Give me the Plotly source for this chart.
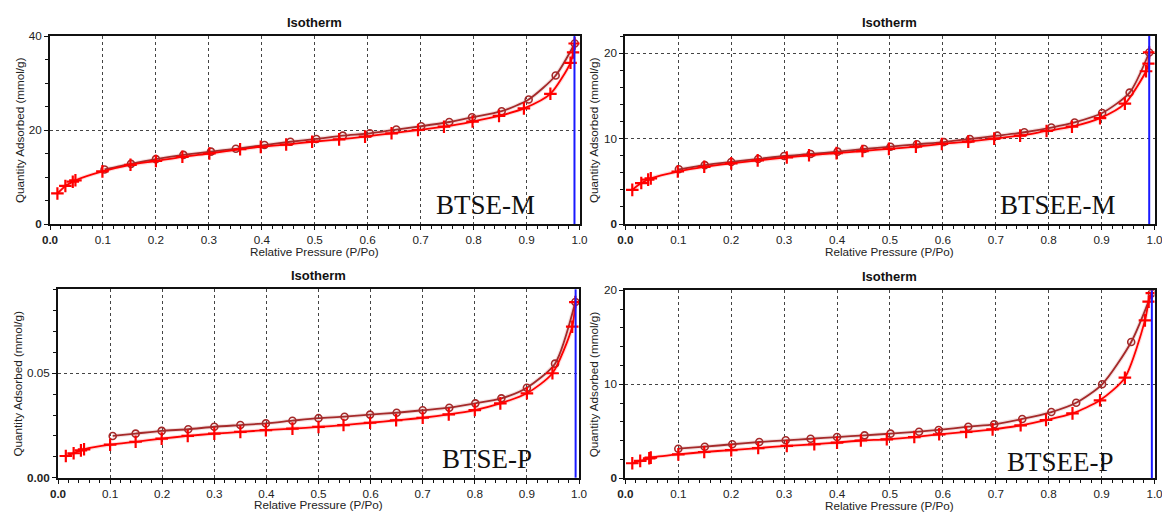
import numpy as np
import plotly.graph_objects as go

# ---------------- data: N2 isotherms (relative pressure, mmol/g) ----------------
samples = ["BTSE-M", "BTSEE-M", "BTSE-P", "BTSEE-P"]

btse_m_ads_x = [0.014, 0.029, 0.043, 0.048, 0.099, 0.152, 0.200, 0.250, 0.301, 0.359, 0.398, 0.446, 0.495,
                0.546, 0.595, 0.645, 0.695, 0.744, 0.798, 0.848, 0.895, 0.945, 0.983, 0.988, 0.991]
btse_m_ads_y = [6.5, 8.1, 9.0, 9.3, 11.2, 12.6, 13.4, 14.3, 15.0, 15.9, 16.4, 16.9, 17.5,
                18.0, 18.6, 19.3, 20.0, 20.7, 21.8, 23.0, 24.6, 27.7, 34.3, 36.5, 38.4]
btse_m_des_x = [0.991, 0.955, 0.904, 0.853, 0.797, 0.754, 0.701, 0.654, 0.604, 0.553, 0.503, 0.454, 0.405,
                0.351, 0.304, 0.252, 0.200, 0.153, 0.103]
btse_m_des_y = [38.4, 31.6, 26.5, 24.0, 22.7, 21.7, 20.8, 20.1, 19.3, 18.8, 18.1, 17.5, 16.8,
                16.0, 15.4, 14.7, 13.8, 12.8, 11.6]

btsee_m_ads_x = [0.013, 0.030, 0.043, 0.048, 0.099, 0.149, 0.200, 0.250, 0.305, 0.347, 0.399, 0.448, 0.498,
                 0.549, 0.598, 0.648, 0.697, 0.746, 0.796, 0.844, 0.897, 0.944, 0.984, 0.989, 0.990]
btsee_m_ads_y = [4.0, 4.8, 5.2, 5.35, 6.15, 6.7, 7.1, 7.45, 7.8, 8.05, 8.3, 8.55, 8.8,
                 9.06, 9.38, 9.65, 10.0, 10.35, 10.9, 11.4, 12.4, 14.1, 17.9, 18.8, 20.1]
btsee_m_des_x = [0.990, 0.953, 0.901, 0.849, 0.805, 0.754, 0.703, 0.651, 0.602, 0.551, 0.501, 0.451, 0.401,
                 0.350, 0.300, 0.251, 0.200, 0.150, 0.101]
btsee_m_des_y = [20.1, 15.4, 13.0, 11.9, 11.3, 10.75, 10.35, 9.96, 9.6, 9.34, 9.06, 8.79, 8.48,
                 8.2, 7.97, 7.62, 7.27, 6.9, 6.41]

btse_p_ads_x = [0.015, 0.030, 0.044, 0.050, 0.100, 0.149, 0.199, 0.249, 0.300, 0.350, 0.399, 0.450, 0.500,
                0.548, 0.599, 0.649, 0.700, 0.750, 0.800, 0.849, 0.900, 0.949, 0.987, 0.993]
btse_p_ads_y = [0.0104, 0.0117, 0.0131, 0.0136, 0.0158, 0.0172, 0.0187, 0.0200, 0.0211, 0.0219, 0.0228,
                0.0235, 0.0243, 0.0252, 0.0263, 0.0275, 0.0287, 0.0303, 0.0324, 0.0356, 0.0404, 0.0500,
                0.0723, 0.0841]
btse_p_des_x = [0.993, 0.954, 0.900, 0.851, 0.801, 0.751, 0.700, 0.650, 0.599, 0.550, 0.500, 0.450, 0.399,
                0.350, 0.300, 0.250, 0.199, 0.149, 0.105]
btse_p_des_y = [0.0841, 0.0546, 0.0431, 0.0380, 0.0356, 0.0335, 0.0323, 0.0311, 0.0302, 0.0292, 0.0285,
                0.0273, 0.0260, 0.0252, 0.0244, 0.0232, 0.0224, 0.0211, 0.0200]

btsee_p_ads_x = [0.013, 0.028, 0.045, 0.048, 0.100, 0.149, 0.200, 0.251, 0.305, 0.357, 0.400, 0.445, 0.494,
                 0.546, 0.593, 0.644, 0.694, 0.747, 0.795, 0.845, 0.897, 0.944, 0.982, 0.989, 0.995]
btsee_p_ads_y = [1.6, 1.85, 2.13, 2.2, 2.55, 2.8, 3.0, 3.22, 3.44, 3.62, 3.8, 4.02, 4.15,
                 4.39, 4.68, 4.93, 5.21, 5.64, 6.2, 6.91, 8.3, 10.7, 16.8, 18.8, 19.7]
btsee_p_des_x = [0.995, 0.956, 0.901, 0.852, 0.805, 0.750, 0.697, 0.648, 0.592, 0.555, 0.501, 0.452, 0.400,
                 0.350, 0.303, 0.253, 0.202, 0.150, 0.100]
btsee_p_des_y = [19.7, 14.5, 10.0, 8.04, 7.05, 6.31, 5.74, 5.49, 5.14, 4.96, 4.75, 4.57, 4.39,
                 4.21, 4.04, 3.86, 3.62, 3.36, 3.15]

# saturation pressure marker (P/Po) for each run
saturation_p = [0.9905, 0.990, 0.9935, 0.995]

# axis ticks
x_tickvals = [0.0, 0.1, 0.2, 0.3, 0.4, 0.5, 0.6, 0.7, 0.8, 0.9, 1.0]
x_ticktext = ["<b>0.0</b>", "0.1", "0.2", "0.3", "0.4", "0.5", "0.6", "0.7", "0.8", "0.9", "1.0"]
y_ranges = [[0, 40], [0, 22.03], [0, 0.0902], [0, 20]]
y_tickvals = [[0, 20, 40], [0, 10, 20], [0, 0.05], [0, 10, 20]]
y_ticktext = [["<b>0</b>", "20", "40"], ["<b>0</b>", "10", "20"], ["<b>0.00</b>", "0.05"], ["<b>0</b>", "10", "20"]]
y_minor = [5, 2, 0.01, 2]

series = [
    (btse_m_ads_x, btse_m_ads_y, btse_m_des_x, btse_m_des_y),
    (btsee_m_ads_x, btsee_m_ads_y, btsee_m_des_x, btsee_m_des_y),
    (btse_p_ads_x, btse_p_ads_y, btse_p_des_x, btse_p_des_y),
    (btsee_p_ads_x, btsee_p_ads_y, btsee_p_des_x, btsee_p_des_y),
]

# ---------------- layout geometry (pixels) ----------------
W, H = 1162, 512
panels_px = [  # x0, x1, ytop, ybottom
    (50, 579.5, 36, 224),
    (625.4, 1154.5, 36, 224),
    (58, 579, 289.3, 477.7),
    (625.4, 1154.5, 290.3, 478.3),
]

ADS = "#ff0000"
DES = "#a52a2a"
FONT = "Liberation Sans, Arial, sans-serif"
FS = 11.7

fig = go.Figure()
layout = dict(
    width=W, height=H, margin=dict(l=0, r=0, t=0, b=0, autoexpand=False),
    paper_bgcolor="white", plot_bgcolor="white", showlegend=False,
    font=dict(family=FONT, size=FS, color="#222"),
)
annotations = []
shapes = []

for i, ((ax_, ay_, dx_, dy_), (px0, px1, pyt, pyb)) in enumerate(zip(series, panels_px)):
    n = "" if i == 0 else str(i + 1)
    xa, ya = "x" + n, "y" + n

    # pale halo under each curve
    for xs, ys, col in ((dx_, dy_, "rgba(165,42,42,0.14)"), (ax_, ay_, "rgba(255,0,0,0.14)")):
        fig.add_trace(go.Scatter(x=xs, y=ys, mode="lines", xaxis=xa, yaxis=ya,
                                 line=dict(color=col, width=4, shape="spline", smoothing=0.7),
                                 hoverinfo="skip"))
    # desorption branch
    fig.add_trace(go.Scatter(x=dx_, y=dy_, mode="lines+markers", xaxis=xa, yaxis=ya, name="Desorption",
                             line=dict(color=DES, width=1.8, shape="spline", smoothing=0.7),
                             marker=dict(symbol="circle-open", size=7, color=DES, line=dict(width=1.6, color=DES))))
    # adsorption branch
    fig.add_trace(go.Scatter(x=ax_, y=ay_, mode="lines+markers", xaxis=xa, yaxis=ya, name="Adsorption",
                             line=dict(color=ADS, width=1.8, shape="spline", smoothing=0.7),
                             marker=dict(symbol="cross-thin", size=9, color=ADS, line=dict(width=2.2, color=ADS))))

    xdom = [px0 / W, px1 / W]
    ydom = [1 - pyb / H, 1 - pyt / H]
    common = dict(showline=True, linecolor="#111", linewidth=2, mirror=True,
                  ticks="outside", ticklen=4, tickwidth=1, tickcolor="#111",
                  showgrid=True, gridcolor="#444", griddash="dot", gridwidth=1,
                  zeroline=False, automargin=False, ticklabeloverflow="allow",
                  tickfont=dict(family=FONT, size=FS, color="#222"))
    layout["xaxis" + n] = dict(domain=xdom, anchor=ya, range=[0, 1], tickmode="array",
                               tickvals=x_tickvals, ticktext=x_ticktext,
                               minor=dict(tickmode="linear", tick0=0, dtick=0.02, ticks="outside",
                                          ticklen=3, tickcolor="#111", showgrid=False),
                               **common)
    layout["yaxis" + n] = dict(domain=ydom, anchor=xa, range=y_ranges[i], tickmode="array",
                               tickvals=y_tickvals[i], ticktext=y_ticktext[i],
                               minor=dict(tickmode="linear", tick0=0, dtick=y_minor[i], ticks="outside",
                                          ticklen=3, tickcolor="#111", showgrid=False),
                               **common)

    # saturation pressure line
    shapes.append(dict(type="line", xref=xa, yref=ya + " domain", x0=saturation_p[i], x1=saturation_p[i],
                       y0=0, y1=1, line=dict(color="#1a1aff", width=2)))

    xc = (px0 + px1) / 2
    ymid = (pyt + pyb) / 2
    # panel title
    annotations.append(dict(text="<b>Isotherm</b>", xref="paper", yref="paper", x=xc / W, y=1 - (pyt - 14) / H,
                            showarrow=False, xanchor="center", yanchor="middle",
                            font=dict(family=FONT, size=13, color="#111")))
    # x-axis title
    annotations.append(dict(text="Relative Pressure (P/Po)", xref="paper", yref="paper", x=xc / W,
                            y=1 - (pyb + 27) / H, showarrow=False, xanchor="center", yanchor="middle",
                            font=dict(family=FONT, size=FS, color="#222")))
    # y-axis title
    ytx = [19, 593, 17, 593][i]
    annotations.append(dict(text="Quantity Adsorbed (mmol/g)", xref="paper", yref="paper", x=ytx / W,
                            y=1 - ymid / H, showarrow=False, xanchor="center", yanchor="middle",
                            textangle=-90, font=dict(family=FONT, size=FS, color="#222")))

# sample names inside panels
label_pos = [(485, 206), (1058, 206), (486.5, 460), (1060.7, 463)]
for name, (lx, ly) in zip(samples, label_pos):
    annotations.append(dict(text=name, xref="paper", yref="paper", x=lx / W, y=1 - (ly - 1) / H,
                            showarrow=False, xanchor="center", yanchor="middle",
                            font=dict(family="Liberation Serif, Times New Roman, serif", size=27, color="#111")))

layout["annotations"] = annotations
layout["shapes"] = shapes
fig.update_layout(**layout)
fig.write_html("out.html")
